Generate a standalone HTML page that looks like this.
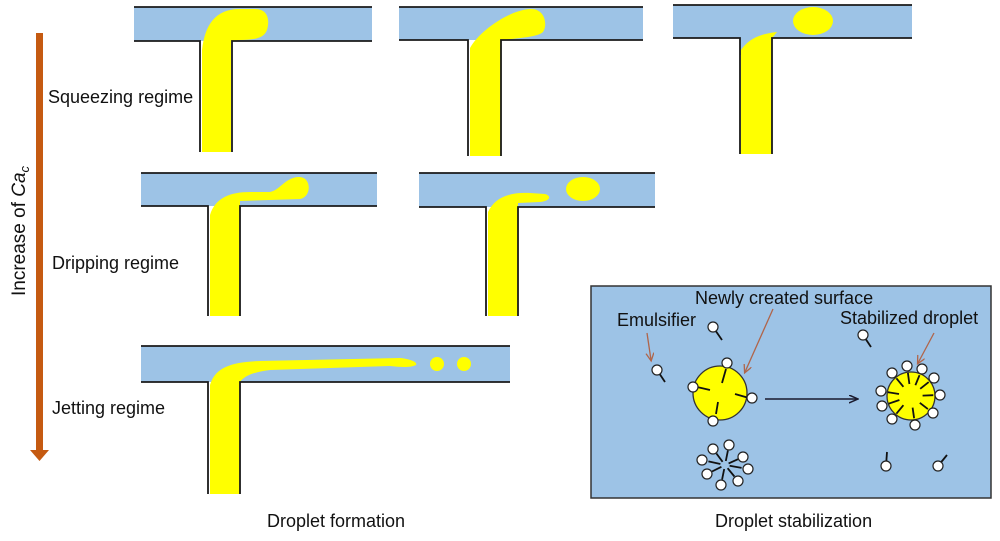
<!DOCTYPE html>
<html><head><meta charset="utf-8"><style>
html,body{margin:0;padding:0;background:#fff;}
svg{display:block;font-family:"Liberation Sans",Arial,sans-serif;}
</style></head><body>
<svg width="1000" height="541" viewBox="0 0 1000 541" xmlns="http://www.w3.org/2000/svg">
<defs>
<marker id="ah" markerWidth="10" markerHeight="10" refX="8" refY="4" orient="auto" markerUnits="userSpaceOnUse"><path d="M0,0 L9,4 L0,8" fill="none" stroke="#1a1a2e" stroke-width="1.5"/></marker>
<marker id="oh" markerWidth="10" markerHeight="10" refX="7" refY="4" orient="auto" markerUnits="userSpaceOnUse"><path d="M0,0 L8,4 L0,8" fill="none" stroke="#b0654a" stroke-width="1.3"/></marker>
</defs>
<g stroke="#1a1a1a" stroke-width="1.8" fill="none">
<!-- Panel 1 -->
<rect x="134" y="7" width="238" height="34" fill="#9dc3e6" stroke="none"/>
<path d="M202,152 L202,50 C205,25 215,9 240,9 L255,9 C268,9 270,20 267,30 C264,38 255,40 240,40 L231,41 L231,152 Z" fill="#ffff00" stroke="none"/>
<path d="M134,7 H372 M134,41 H200 V152 M372,41 H232 V152"/>
<!-- Panel 2 -->
<rect x="399" y="7" width="244" height="33" fill="#9dc3e6" stroke="none"/>
<path d="M470,156 L470,48 C480,30 510,10 530,9 C545,8 548,25 543,32 C538,37 520,38 501,40 L501,156 Z" fill="#ffff00" stroke="none"/>
<path d="M399,7 H643 M399,40 H468 V156 M643,40 H501 V156"/>
<!-- Panel 3 -->
<rect x="673" y="5" width="239" height="33" fill="#9dc3e6" stroke="none"/>
<rect x="740" y="37" width="32" height="18" fill="#9dc3e6" stroke="none"/>
<path d="M741,154 L741,50 C748,40 758,34 777,32 L772,38 L772,154 Z" fill="#ffff00" stroke="none"/>
<ellipse cx="813" cy="21" rx="20" ry="14" fill="#ffff00" stroke="none"/>
<path d="M673,5 H912 M673,38 H740 V154 M912,38 H772 V154"/>
<!-- Panel 4 -->
<rect x="141" y="173" width="236" height="33" fill="#9dc3e6" stroke="none"/>
<path d="M210,316 L210,215 C215,198 230,192 250,192 L270,192 C280,190 285,178 298,177 C312,176 312,197 300,199 L240,201 L240,316 Z" fill="#ffff00" stroke="none"/>
<path d="M141,173 H377 M141,206 H208 V316 M377,206 H240 V316"/>
<!-- Panel 5 -->
<rect x="419" y="173" width="236" height="34" fill="#9dc3e6" stroke="none"/>
<path d="M488,316 L488,212 C495,197 510,192 530,193 L545,194 C552,196 550,201 540,202 L518,203 L518,316 Z" fill="#ffff00" stroke="none"/>
<ellipse cx="583" cy="189" rx="17" ry="12" fill="#ffff00" stroke="none"/>
<path d="M419,173 H655 M419,207 H486 V316 M655,207 H518 V316"/>
<!-- Panel 6 -->
<rect x="141" y="346" width="369" height="36" fill="#9dc3e6" stroke="none"/>
<path d="M210,494 L210,385 C215,368 230,362 260,361 L400,358 C410,359 418,362 416,365 C410,368 400,367 390,366 L270,370 C255,372 245,375 240,382 L240,494 Z" fill="#ffff00" stroke="none"/>
<circle cx="437" cy="364" r="7" fill="#ffff00" stroke="none"/>
<circle cx="464" cy="364" r="7" fill="#ffff00" stroke="none"/>
<path d="M141,346 H510 M141,382 H208 V494 M510,382 H240 V494"/>
</g>
<!-- Orange arrow -->
<rect x="36" y="33" width="7" height="418" fill="#c55a11"/>
<polygon points="30,450 49,450 39.5,461" fill="#c55a11"/>
<text transform="translate(25,231) rotate(-90)" text-anchor="middle" font-size="19" fill="#111">Increase of <tspan font-style="italic">Ca</tspan><tspan font-style="italic" font-size="13" dy="4">c</tspan></text>
<g font-size="18" fill="#111">
<text x="48" y="103">Squeezing regime</text>
<text x="52" y="269">Dripping regime</text>
<text x="52" y="414">Jetting regime</text>
<text x="267" y="527">Droplet formation</text>
<text x="715" y="527">Droplet stabilization</text>
</g>
<!-- Stabilization box -->
<rect x="591" y="286" width="400" height="212" fill="#9dc3e6" stroke="#333" stroke-width="1.5"/>
<g font-size="18" fill="#111">
<text x="695" y="304">Newly created surface</text>
<text x="617" y="326">Emulsifier</text>
<text x="840" y="324">Stabilized droplet</text>
</g>
<g stroke="#b0654a" stroke-width="1.3" marker-end="url(#oh)">
<line x1="647" y1="333" x2="651" y2="360"/>
<line x1="773" y1="309" x2="745" y2="372"/>
<line x1="934" y1="333" x2="918" y2="363"/>
</g>
<line x1="765" y1="399" x2="857" y2="399" stroke="#1a1a2e" stroke-width="1.5" marker-end="url(#ah)"/>
<circle cx="720" cy="393" r="27" fill="#ffff00" stroke="#333" stroke-width="1.3"/>
<circle cx="911" cy="396" r="24" fill="#ffff00" stroke="#333" stroke-width="1.3"/>
<g stroke="#111" stroke-width="1.8">
<line x1="726" y1="369" x2="722" y2="383"/>
<line x1="697" y1="387" x2="710" y2="390"/>
<line x1="749" y1="398" x2="735" y2="394"/>
<line x1="716" y1="414" x2="718" y2="402"/>
<line x1="896.4" y1="378.3" x2="903.4" y2="386.8"/>
<line x1="907.9" y1="372.9" x2="909.4" y2="384"/>
<line x1="919.5" y1="375.2" x2="915.4" y2="385.2"/>
<line x1="928.7" y1="382.1" x2="920.2" y2="388.8"/>
<line x1="933.3" y1="395.2" x2="922.6" y2="395.6"/>
<line x1="927.9" y1="409.1" x2="919.8" y2="402.8"/>
<line x1="914.1" y1="418.3" x2="912.6" y2="407.6"/>
<line x1="896.4" y1="413.7" x2="903.4" y2="405.2"/>
<line x1="888.7" y1="403.7" x2="899.4" y2="400"/>
<line x1="887.9" y1="392.2" x2="899" y2="394"/>
<line x1="727.9" y1="450.6" x2="725.8" y2="461"/>
<line x1="716.4" y1="453.5" x2="722.6" y2="461.8"/>
<line x1="708.4" y1="461.4" x2="720.4" y2="464"/>
<line x1="712" y1="471.5" x2="721.4" y2="466.8"/>
<line x1="722.1" y1="479.4" x2="724.2" y2="469"/>
<line x1="734.4" y1="476.5" x2="727.6" y2="468.2"/>
<line x1="741.6" y1="467.9" x2="729.6" y2="465.8"/>
<line x1="738" y1="459.2" x2="728.6" y2="463.4"/>
<line x1="713" y1="327" x2="722" y2="340"/>
<line x1="657" y1="370" x2="665" y2="382"/>
<line x1="863" y1="335" x2="871" y2="347"/>
<line x1="886" y1="466" x2="887" y2="452"/>
<line x1="938" y1="466" x2="947" y2="455"/>
</g>
<g fill="#fff" stroke="#222" stroke-width="1.2">
<circle cx="727" cy="363" r="5"/><circle cx="693" cy="387" r="5"/><circle cx="752" cy="398" r="5"/><circle cx="713" cy="421" r="5"/>
<circle cx="892" cy="373" r="5"/><circle cx="907" cy="366" r="5"/><circle cx="922" cy="369" r="5"/><circle cx="934" cy="378" r="5"/><circle cx="940" cy="395" r="5"/>
<circle cx="933" cy="413" r="5"/><circle cx="915" cy="425" r="5"/><circle cx="892" cy="419" r="5"/><circle cx="882" cy="406" r="5"/><circle cx="881" cy="391" r="5"/>
<circle cx="729" cy="445" r="5"/><circle cx="713" cy="449" r="5"/><circle cx="702" cy="460" r="5"/><circle cx="707" cy="474" r="5"/><circle cx="721" cy="485" r="5"/><circle cx="738" cy="481" r="5"/><circle cx="748" cy="469" r="5"/><circle cx="743" cy="457" r="5"/>
<circle cx="713" cy="327" r="5"/><circle cx="657" cy="370" r="5"/><circle cx="863" cy="335" r="5"/><circle cx="886" cy="466" r="5"/><circle cx="938" cy="466" r="5"/>
</g>
</svg>
</body></html>
